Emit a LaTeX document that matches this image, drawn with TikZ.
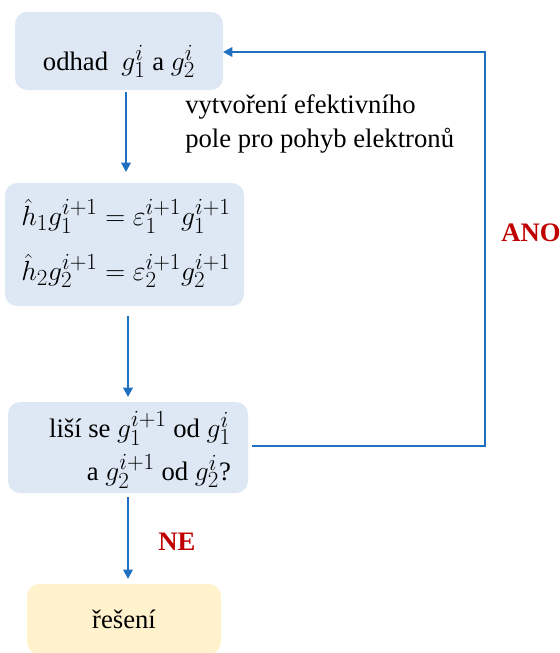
\documentclass[tikz,border=0pt]{standalone}
\usepackage{fontspec}
\setmainfont{Liberation Serif}
\DeclareMathSizes{20}{21}{16}{12}
\usetikzlibrary{arrows.meta}
\definecolor{boxblue}{HTML}{DDE8F4}
\definecolor{boxyellow}{HTML}{FFF2CC}
\definecolor{arrowblue}{HTML}{1F70C1}
\definecolor{darkred}{HTML}{C00000}
\begin{document}
\begin{tikzpicture}[x=0.75pt,y=-0.75pt,
  box/.style={fill=boxblue,rounded corners=9pt,inner sep=0pt},
  flow/.style={draw=arrowblue,line width=2.2pt,-{Triangle[length=7pt,width=7pt]}},
  lbl/.style={text=darkred,font=\fontsize{20}{24}\selectfont\bfseries},
  every node/.style={font=\fontsize{20}{24}\selectfont}]
\useasboundingbox (0,0) rectangle (560,653);
\node[box,minimum width=208pt*0.75,minimum height=78pt*0.75] (b1) at (119,51) {};
\node at (119,61) (t1) {odhad\ \ $g_1^i$ a $g_2^i$};
\node[box,minimum width=239pt*0.75,minimum height=123pt*0.75] (b2) at (124.5,244.5) {};
\node (t2) at (126,244.5) {$\begin{array}{@{}l@{}}\hat h_1 g_1^{i+1}=\varepsilon_1^{i+1}g_1^{i+1}\\[14pt] \hat h_2 g_2^{i+1}=\varepsilon_2^{i+1}g_2^{i+1}\end{array}$};
\node[box,minimum width=240pt*0.75,minimum height=91pt*0.75] (b3) at (128,447.5) {};
\node[align=right,inner sep=0pt] (t3) at (140,450) {liší se $g_1^{i+1}$ od $g_1^i$\\[6pt] a $g_2^{i+1}$ od $g_2^i$?};
\node[fill=boxyellow,rounded corners=9pt,minimum width=194pt*0.75,minimum height=70pt*0.75,inner sep=0pt] (b4) at (124,619) {};
\node (t4) at (124,619) {řešení};
\node[align=left,anchor=west,inner sep=0pt] (note) at (185,124) {vytvoření efektivního\\[2pt]pole pro pohyb elektronů};
\node[lbl] (ano) at (531,233) {ANO};
\node[lbl] (ne) at (177,542) {NE};
\coordinate (c1) at (126,92);
\coordinate (c2) at (126,172);
\draw[flow] (c1) -- (c2);
\coordinate (d1) at (128,316);
\coordinate (d2) at (128,397);
\draw[flow] (d1) -- (d2);
\coordinate (e1) at (128,497);
\coordinate (e2) at (128,579);
\draw[flow] (e1) -- (e2);
\coordinate (r1) at (252,446);
\coordinate (r2) at (485,446);
\coordinate (r3) at (485,52);
\coordinate (r4) at (223,52);
\draw[flow] (r1) -- (r2) -- (r3) -- (r4);
\end{tikzpicture}
\end{document}
